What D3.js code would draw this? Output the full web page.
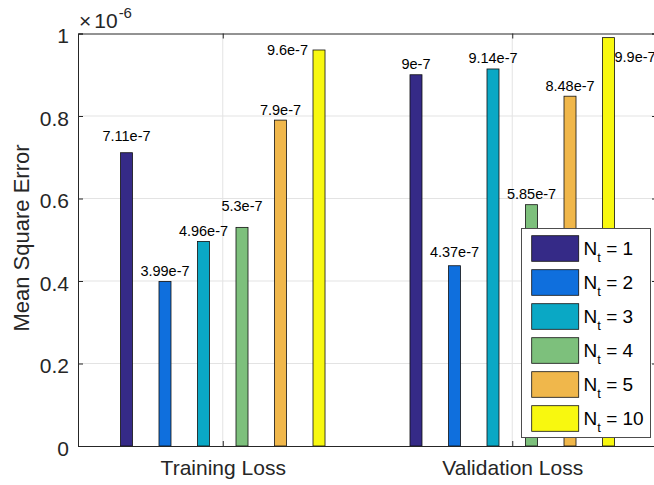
<!DOCTYPE html>
<html>
<head>
<meta charset="utf-8">
<script src="https://cdn.jsdelivr.net/npm/d3@7"></script>
<style>
body{margin:0;background:#fff;}
svg{font-family:"Liberation Sans",Arial,sans-serif;}
.grid line{stroke:#e3e3e3;stroke-width:1;}
.axis path,.axis line{stroke:#262626;stroke-width:1;}
.axis text{fill:#262626;}
</style>
</head>
<body>
<svg id="chart" width="654" height="485"></svg>
<script>
// data
const groups = ["Training Loss", "Validation Loss"];
const seriesNames = ["1", "2", "3", "4", "5", "10"];
const trainingLoss = [7.11e-7, 3.99e-7, 4.96e-7, 5.3e-7, 7.9e-7, 9.6e-7];
const validationLoss = [9e-7, 4.37e-7, 9.14e-7, 5.85e-7, 8.48e-7, 9.9e-7];
const trainingLabels = ["7.11e-7", "3.99e-7", "4.96e-7", "5.3e-7", "7.9e-7", "9.6e-7"];
const validationLabels = ["9e-7", "4.37e-7", "9.14e-7", "5.85e-7", "8.48e-7", "9.9e-7"];
const yTicks = [0, 0.2e-6, 0.4e-6, 0.6e-6, 0.8e-6, 1e-6];
const yTickLabels = ["0", "0.2", "0.4", "0.6", "0.8", "1"];
const colors = ["#352a87", "#0f6fdd", "#0aa8c5", "#7dc07c", "#f0b74b", "#f8f80f"];

const svg = d3.select("#chart");

const xScale = d3.scaleLinear().domain([0.5, 2.5]).range([78, 657]);
const yScale = d3.scaleLinear().domain([0, 1e-6]).range([446, 33.5]);
const step = 0.133, barW = 0.0415;

// grid
const grid = svg.append("g").attr("class", "grid");
grid.selectAll("line.h").data(yTicks.slice(1, -1)).join("line")
    .attr("x1", xScale(0.5)).attr("x2", xScale(2.5))
    .attr("y1", d => yScale(d)).attr("y2", d => yScale(d));
grid.selectAll("line.v").data([1, 2]).join("line")
    .attr("x1", d => xScale(d)).attr("x2", d => xScale(d))
    .attr("y1", yScale(0)).attr("y2", yScale(1e-6));

// bars
const rows = [
    {g: 1, vals: trainingLoss, labels: trainingLabels},
    {g: 2, vals: validationLoss, labels: validationLabels}
];
const bars = [];
rows.forEach(r => r.vals.forEach((v, i) => bars.push({g: r.g, i: i, v: v, label: r.labels[i]})));

svg.append("g").selectAll("rect").data(bars).join("rect")
    .attr("x", d => xScale(d.g + (d.i - 2.5) * step - barW / 2))
    .attr("width", d => xScale(d.g + barW) - xScale(d.g))
    .attr("y", d => yScale(d.v))
    .attr("height", d => yScale(0) - yScale(d.v))
    .attr("fill", d => colors[d.i])
    .attr("stroke", "#111").attr("stroke-width", 0.8);

// value labels (a few were nudged in the original figure)
const gap = {"7.11e-7": 12, "5.3e-7": 16, "4.37e-7": 9};
svg.append("g").selectAll("text").data(bars).join("text")
    .attr("font-size", 14.5).attr("fill", "#000")
    .each(function(d) {
        const cx = xScale(d.g + (d.i - 2.5) * step);
        const top = yScale(d.v);
        const t = d3.select(this).text(d.label);
        if (d.label === "9.6e-7") {
            t.attr("x", cx - 11).attr("y", top + 5).attr("text-anchor", "end");
        } else if (d.label === "9.9e-7") {
            t.attr("x", cx + 6).attr("y", top + 24).attr("text-anchor", "start");
        } else {
            t.attr("x", cx).attr("y", top - (gap[d.label] || 5.5)).attr("text-anchor", "middle");
        }
    });

// axes
const yAxis = d3.axisLeft(yScale).tickValues(yTicks).tickSize(-5).tickPadding(9)
    .tickFormat((d, i) => yTickLabels[i]);
svg.append("g").attr("class", "axis").attr("transform", "translate(78,0)").call(yAxis)
    .selectAll("text").attr("font-size", 21).attr("dy", "0.45em");
svg.append("g").attr("class", "axis").attr("transform", "translate(657,0)")
    .call(d3.axisRight(yScale).tickValues(yTicks).tickSize(-5).tickFormat(""));

const xAxis = d3.axisBottom(xScale).tickValues([1, 2]).tickSize(-5).tickPadding(14)
    .tickFormat(d => groups[d - 1]);
svg.append("g").attr("class", "axis").attr("transform", "translate(0,446)").call(xAxis)
    .selectAll("text").attr("font-size", 21);
svg.append("g").attr("class", "axis").attr("transform", "translate(0,33.5)")
    .call(d3.axisTop(xScale).tickValues([1, 2]).tickSize(-5).tickFormat(""));
svg.selectAll(".axis path").attr("fill", "none");

// exponent
const ex = svg.append("text").attr("x", 79).attr("y", 27.5).attr("font-size", 21).attr("fill", "#262626");
ex.append("tspan").text("\u00d7");
ex.append("tspan").attr("dx", 3).text("10");
ex.append("tspan").attr("dy", -9.5).attr("dx", 1).attr("font-size", 15).text("-6");

// y label
svg.append("text").attr("transform", "translate(28.5,238) rotate(-90)")
    .attr("text-anchor", "middle").attr("font-size", 22).attr("fill", "#262626")
    .text("Mean Square Error");

// legend
const lg = svg.append("g");
lg.append("rect").attr("x", 521.5).attr("y", 228.5).attr("width", 129).attr("height", 209)
    .attr("fill", "#fff").attr("stroke", "#4d4d4d").attr("stroke-width", 1);
seriesNames.forEach((s, i) => {
    const y0 = 235.7 + i * 34;
    lg.append("rect").attr("x", 531.7).attr("y", y0).attr("width", 47).attr("height", 25.6)
        .attr("fill", colors[i]).attr("stroke", "#111").attr("stroke-width", 0.8);
    const t = lg.append("text").attr("x", 583.5).attr("y", y0 + 19)
        .attr("font-size", 19).attr("fill", "#000");
    t.append("tspan").text("N");
    t.append("tspan").attr("dy", 7).attr("font-size", 13).text("t");
    t.append("tspan").attr("dy", -7).attr("font-size", 19).text(" = " + s);
});
</script>
</body>
</html>
